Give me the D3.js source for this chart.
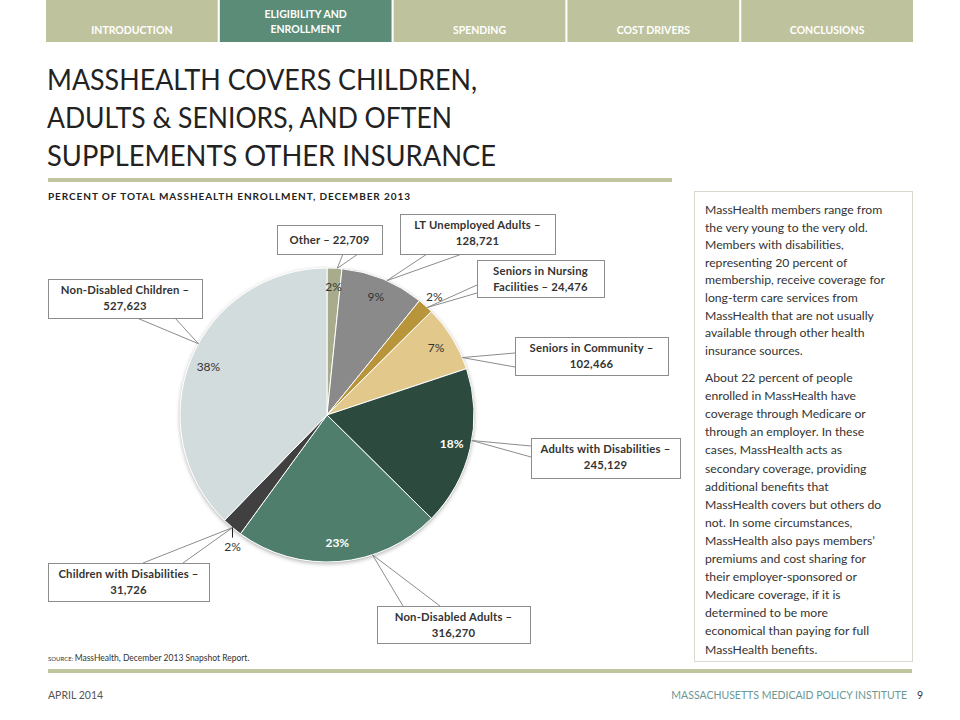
<!DOCTYPE html>
<html>
<head>
<meta charset="utf-8">
<script src="https://cdn.jsdelivr.net/npm/d3@7"></script>
<style>
  body { margin: 0; background: #fff; }
  svg { display: block; font-family: Lato, "Open Sans", sans-serif; }
</style>
</head>
<body>
<svg id="chart" width="960" height="720"></svg>
<script>
// data
const categories = ["Other", "LT Unemployed Adults", "Seniors in Nursing Facilities",
  "Seniors in Community", "Adults with Disabilities", "Non-Disabled Adults",
  "Children with Disabilities", "Non-Disabled Children"];
const enrollment = [22709, 128721, 24476, 102466, 245129, 316270, 31726, 527623];
const calloutLines = [
  ["Other – 22,709"],
  ["LT Unemployed Adults –", "128,721"],
  ["Seniors in Nursing", "Facilities – 24,476"],
  ["Seniors in Community –", "102,466"],
  ["Adults with Disabilities –", "245,129"],
  ["Non-Disabled Adults –", "316,270"],
  ["Children with Disabilities –", "31,726"],
  ["Non-Disabled Children –", "527,623"]
];
const navTabs = [["INTRODUCTION"], ["ELIGIBILITY AND", "ENROLLMENT"], ["SPENDING"], ["COST DRIVERS"], ["CONCLUSIONS"]];
const activeTab = 1;
const titleLines = ["MASSHEALTH COVERS CHILDREN,", "ADULTS & SENIORS, AND OFTEN", "SUPPLEMENTS OTHER INSURANCE"];
const para1 = ["MassHealth members range from", "the very young to the very old.", "Members with disabilities,",
  "representing 20 percent of", "membership, receive coverage for", "long-term care services from",
  "MassHealth that are not usually", "available through other health", "insurance sources."];
const para2 = ["About 22 percent of people", "enrolled in MassHealth have", "coverage through Medicare or",
  "through an employer.  In these", "cases, MassHealth acts as", "secondary coverage, providing",
  "additional benefits that", "MassHealth covers but others do", "not. In some circumstances,",
  "MassHealth also pays members’", "premiums and cost sharing for", "their employer-sponsored  or",
  "Medicare coverage, if it is", "determined to be more", "economical than paying for full",
  "MassHealth benefits."];

// layout / styles
const colors = ["#a9ac8c", "#8a8a8a", "#b8943a", "#e2c98b", "#2d4a3e", "#4f7f6c", "#404040", "#d3dcdd"];
const pctColors = ["#333", "#333", "#333", "#333", "#fff", "#fff", "#333", "#333"];
// callout box, which edge the pointer leaves from, pointer base positions, tip angle (deg)
const callouts = [
  {box: [277, 225, 105, 29], side: "bottom", base: [343, 358], tip: 4},
  {box: [400, 214, 155, 40], side: "bottom", base: [427, 462], tip: 24},
  {box: [477, 260, 127, 37], side: "left", base: [285, 293], tip: 43},
  {box: [515, 337, 153, 38], side: "left", base: [353, 367], tip: 67},
  {box: [531, 438, 149, 40], side: "left", base: [446, 457], tip: 100},
  {box: [377, 606, 153, 37], side: "top", base: [403, 440], tip: 162},
  {box: [48, 563, 161, 38], side: "top", base: [143, 183], tip: 220},
  {box: [48, 279, 154, 39], side: "bottom", base: [137, 175], tip: 299}
];
// "in" = inside the slice, "out" = just outside, "tick" = below a short leader tick
const labelMode = ["in", "in", "out", "in", "in", "in", "tick", "in"];

const svg = d3.select("#chart");

// nav bar
const tabX = d3.scaleBand().domain(d3.range(navTabs.length)).range([46, 913]).paddingInner(0.012);
const tabs = svg.append("g").selectAll("g").data(navTabs).join("g")
  .attr("transform", (d, i) => `translate(${tabX(i)},0)`);
tabs.append("rect").attr("width", tabX.bandwidth()).attr("height", 42)
  .attr("fill", (d, i) => i === activeTab ? "#5a8c78" : "#bfc39d");
tabs.each(function(d) {
  const t = d3.select(this).append("text").attr("x", tabX.bandwidth() / 2)
    .attr("text-anchor", "middle").attr("fill", "#fff").attr("font-size", 10.5)
    .attr("font-weight", "bold");
  d.forEach((line, j) => t.append("tspan").attr("x", tabX.bandwidth() / 2)
    .attr("y", d.length === 1 ? 34 : 18 + j * 15).text(line));
});

// title
svg.append("g").selectAll("text").data(titleLines).join("text")
  .attr("x", 47).attr("y", (d, i) => 90 + i * 38)
  .attr("font-size", 28).attr("fill", "#222").attr("textLength", (d, i) => [430, 405, 449][i])
  .attr("lengthAdjust", "spacingAndGlyphs")
  .text(d => d);

svg.append("rect").attr("x", 48).attr("y", 178).attr("width", 624).attr("height", 4).attr("fill", "#c1c59f");
svg.append("text").attr("x", 48).attr("y", 200).attr("font-size", 10).attr("font-weight", "bold")
  .attr("fill", "#222").attr("textLength", 362).attr("lengthAdjust", "spacing")
  .text("PERCENT OF TOTAL MASSHEALTH ENROLLMENT, DECEMBER 2013");

// side text box
svg.append("rect").attr("x", 694.5).attr("y", 191.5).attr("width", 218).attr("height", 470)
  .attr("fill", "none").attr("stroke", "#d9d9d0");
const side = svg.append("g").attr("font-size", 12.2).attr("fill", "#333");
side.selectAll("text.p1").data(para1).join("text").attr("class", "p1")
  .attr("x", 705).attr("y", (d, i) => 214 + i * 17.6).text(d => d);
side.selectAll("text.p2").data(para2).join("text").attr("class", "p2")
  .attr("x", 705).attr("y", (d, i) => 382 + i * 18.1).text(d => d);

// pie
const cx = 327, cy = 415, R = 147;
const total = d3.sum(enrollment);
const pie = d3.pie().sort(null).value(d => d)(enrollment);
const arc = d3.arc().innerRadius(0).outerRadius(R);
const pctFmt = d3.format(".0%");

const defs = svg.append("defs");
const f = defs.append("filter").attr("id", "shadow").attr("x", "-20%").attr("y", "-20%")
  .attr("width", "140%").attr("height", "140%");
f.append("feDropShadow").attr("dx", 0).attr("dy", 1.5).attr("stdDeviation", 2.2)
  .attr("flood-color", "#000").attr("flood-opacity", 0.35);

const g = svg.append("g").attr("transform", `translate(${cx},${cy})`);
g.append("circle").attr("r", R).attr("fill", "#fff").attr("filter", "url(#shadow)");
g.selectAll("path").data(pie).join("path")
  .attr("d", arc).attr("fill", (d, i) => colors[i])
  .attr("stroke", "#fff").attr("stroke-width", 1);

const rad = a => a * Math.PI / 180;
const tipPoint = a => [cx + R * Math.sin(rad(a)), cy - R * Math.cos(rad(a))];

const inLabel = d3.arc().innerRadius(128).outerRadius(128);
const outLabel = d3.arc().innerRadius(160).outerRadius(160);
const labelPos = (d, i) => {
  if (labelMode[i] === "tick") {
    const tp = tipPoint(callouts[i].tip);
    return [tp[0] - cx, tp[1] - cy + 19];
  }
  return (labelMode[i] === "out" ? outLabel : inLabel).centroid(d);
};
g.selectAll("text.pct").data(pie).join("text").attr("class", "pct")
  .attr("transform", (d, i) => `translate(${labelPos(d, i)})`)
  .attr("text-anchor", "middle").attr("dy", "0.35em").attr("font-size", 12)
  .attr("font-weight", (d, i) => pctColors[i] === "#fff" ? "bold" : "normal")
  .attr("fill", (d, i) => pctColors[i])
  .text(d => pctFmt(d.value / total));

// callouts
const co = svg.append("g");
callouts.forEach((c, i) => {
  const [bx, by, bw, bh] = c.box;
  const tp = tipPoint(c.tip);
  let p1, p2;
  if (c.side === "bottom") { p1 = [c.base[0], by + bh]; p2 = [c.base[1], by + bh]; }
  else if (c.side === "top") { p1 = [c.base[0], by]; p2 = [c.base[1], by]; }
  else { p1 = [bx, c.base[0]]; p2 = [bx, c.base[1]]; }
  co.append("path").attr("d", d3.line()([p1, tp, p2]))
    .attr("fill", "none").attr("stroke", "#8c8c8c").attr("stroke-width", 1);
  co.append("rect").attr("x", bx + 0.5).attr("y", by + 0.5).attr("width", bw).attr("height", bh)
    .attr("fill", "#fff").attr("stroke", "#8c8c8c").attr("stroke-width", 1);
  const lines = calloutLines[i];
  const t = co.append("text").attr("text-anchor", "middle").attr("font-size", 11.3)
    .attr("font-weight", "bold").attr("fill", "#333").attr("letter-spacing", 0.2);
  lines.forEach((ln, j) => t.append("tspan").attr("x", bx + bw / 2)
    .attr("y", lines.length === 1 ? by + bh / 2 + 4 : by + 15 + j * 16).text(ln));
});
// small leader tick for labels placed below the pie edge
labelMode.forEach((m, i) => {
  if (m !== "tick") return;
  const tp = tipPoint(callouts[i].tip);
  co.append("line").attr("x1", tp[0]).attr("y1", tp[1]).attr("x2", tp[0]).attr("y2", tp[1] + 10)
    .attr("stroke", "#222");
});

// source + footer
const src = svg.append("text").attr("x", 48).attr("y", 661).attr("fill", "#333");
src.append("tspan").attr("font-size", 6).text("SOURCE: ");
src.append("tspan").attr("font-size", 8.5).text("MassHealth, December 2013 Snapshot Report.");

svg.append("rect").attr("x", 48).attr("y", 669).attr("width", 864).attr("height", 4).attr("fill", "#c1c59f");
svg.append("text").attr("x", 48).attr("y", 699).attr("font-size", 10.5).attr("fill", "#555").text("APRIL 2014");
svg.append("text").attr("x", 907).attr("y", 699).attr("text-anchor", "end").attr("font-size", 10.5)
  .attr("fill", "#6a9894").text("MASSACHUSETTS MEDICAID POLICY INSTITUTE");
svg.append("text").attr("x", 917).attr("y", 699).attr("font-size", 10.5).attr("fill", "#333").text("9");
</script>
</body>
</html>
